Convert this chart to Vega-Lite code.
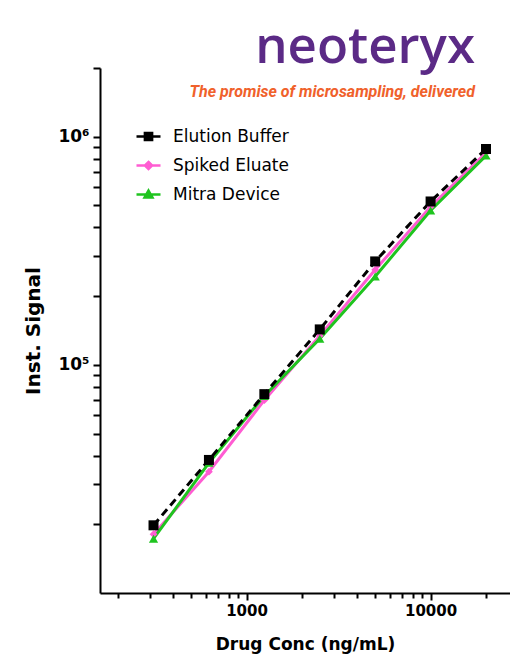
{
  "$schema": "https://vega.github.io/schema/vega-lite/v6.json",
  "width": 410,
  "height": 525,
  "autosize": {"type": "none"},
  "padding": {"left": 100, "top": 68, "right": 0, "bottom": 64},
  "background": "white",
  "title": {
    "text": "neoteryx",
    "subtitle": "The promise of microsampling, delivered",
    "anchor": "end",
    "dx": -35,
    "offset": -42,
    "font": "Open Sans",
    "fontSize": 51,
    "fontWeight": 600,
    "color": "#5b2a86",
    "subtitleFont": "Roboto",
    "subtitleFontSize": 16,
    "subtitleFontStyle": "italic",
    "subtitleFontWeight": "bold",
    "subtitleColor": "#f0612b",
    "subtitlePadding": 10
  },
  "config": {
    "view": {"stroke": null},
    "axis": {
      "domainColor": "black",
      "domainWidth": 2,
      "tickColor": "black",
      "tickWidth": 2,
      "grid": false,
      "labelColor": "black",
      "titleColor": "black"
    }
  },
  "data": {
    "values": [
      {"series": "Spiked Eluate", "conc": 312.5, "signal": 18100},
      {"series": "Spiked Eluate", "conc": 625, "signal": 34000},
      {"series": "Spiked Eluate", "conc": 1250, "signal": 70000},
      {"series": "Spiked Eluate", "conc": 2500, "signal": 134000},
      {"series": "Spiked Eluate", "conc": 5000, "signal": 261000},
      {"series": "Spiked Eluate", "conc": 10000, "signal": 493000},
      {"series": "Spiked Eluate", "conc": 20000, "signal": 850000},
      {"series": "Mitra Device", "conc": 312.5, "signal": 17300},
      {"series": "Mitra Device", "conc": 625, "signal": 37200},
      {"series": "Mitra Device", "conc": 1250, "signal": 73100},
      {"series": "Mitra Device", "conc": 2500, "signal": 130000},
      {"series": "Mitra Device", "conc": 5000, "signal": 244000},
      {"series": "Mitra Device", "conc": 10000, "signal": 475000},
      {"series": "Mitra Device", "conc": 20000, "signal": 826000},
      {"series": "Elution Buffer", "conc": 312.5, "signal": 19800},
      {"series": "Elution Buffer", "conc": 625, "signal": 38300},
      {"series": "Elution Buffer", "conc": 1250, "signal": 74400},
      {"series": "Elution Buffer", "conc": 2500, "signal": 143000},
      {"series": "Elution Buffer", "conc": 5000, "signal": 284000},
      {"series": "Elution Buffer", "conc": 10000, "signal": 520000},
      {"series": "Elution Buffer", "conc": 20000, "signal": 883000}
    ]
  },
  "encoding": {
    "x": {
      "field": "conc",
      "type": "quantitative",
      "scale": {"type": "log", "domain": [160, 27000], "nice": false},
      "axis": {
        "values": [200, 300, 400, 500, 600, 700, 800, 900, 1000, 2000, 3000, 4000, 5000, 6000, 7000, 8000, 9000, 10000, 20000],
        "labelExpr": "datum.value == 1000 ? '1000' : datum.value == 10000 ? '10000' : ''",
        "tickSize": {"condition": {"test": "datum.value == 1000 || datum.value == 10000", "value": 7}, "value": 5},
        "labelFont": "DejaVu Sans",
        "labelFontWeight": "bold",
        "labelFontSize": 15,
        "labelPadding": 3,
        "labelOverlap": false,
        "labelFlush": false,
        "title": "Drug Conc (ng/mL)",
        "titleFont": "DejaVu Sans",
        "titleFontWeight": "bold",
        "titleFontSize": 17,
        "titlePadding": 18
      }
    },
    "y": {
      "field": "signal",
      "type": "quantitative",
      "scale": {"type": "log", "domain": [10000, 2000000], "nice": false},
      "axis": {
        "values": [20000, 30000, 40000, 50000, 60000, 70000, 80000, 90000, 100000, 200000, 300000, 400000, 500000, 600000, 700000, 800000, 900000, 1000000, 2000000],
        "labelExpr": "datum.value == 100000 ? '10⁵' : datum.value == 1000000 ? '10⁶' : ''",
        "tickSize": 7,
        "labelFont": "DejaVu Sans",
        "labelFontWeight": "bold",
        "labelFontSize": 17,
        "labelPadding": 4,
        "labelOverlap": false,
        "labelFlush": false,
        "title": "Inst. Signal",
        "titleFont": "DejaVu Sans",
        "titleFontWeight": "bold",
        "titleFontSize": 20,
        "titlePadding": 14
      }
    }
  },
  "layer": [
    {
      "mark": {"type": "point", "filled": true, "size": 1, "strokeWidth": 2.5, "opacity": 1},
      "encoding": {
        "fill": {
          "field": "series",
          "type": "nominal",
          "scale": {"domain": ["Elution Buffer", "Spiked Eluate", "Mitra Device"], "range": ["#000000", "#ff5cd2", "#1fc41f"]},
          "legend": {"title": null, "orient": "none", "legendX": 35, "legendY": 55, "symbolSize": 576, "symbolStrokeWidth": 2.5, "symbolOpacity": 1, "labelFont": "DejaVu Sans", "labelFontSize": 17, "labelColor": "black", "labelOffset": 11, "rowPadding": 6, "padding": 0}
        },
        "stroke": {
          "field": "series",
          "type": "nominal",
          "scale": {"domain": ["Elution Buffer", "Spiked Eluate", "Mitra Device"], "range": ["#000000", "#ff5cd2", "#1fc41f"]},
          "legend": {"title": null, "orient": "none", "legendX": 35, "legendY": 55, "symbolSize": 576, "symbolStrokeWidth": 2.5, "symbolOpacity": 1, "labelFont": "DejaVu Sans", "labelFontSize": 17, "labelColor": "black", "labelOffset": 11, "rowPadding": 6, "padding": 0}
        },
        "shape": {
          "field": "series",
          "type": "nominal",
          "scale": {"domain": ["Elution Buffer", "Spiked Eluate", "Mitra Device"], "range": ["M-1,0H1M-0.3,-0.3H0.3V0.3H-0.3Z", "M-1,0H1M0,-0.3L0.3,0L0,0.3L-0.3,0Z", "M-1,0H1M0,-0.33L0.33,0.25H-0.33Z"]},
          "legend": {"title": null, "orient": "none", "legendX": 35, "legendY": 55, "symbolSize": 576, "symbolStrokeWidth": 2.5, "symbolOpacity": 1, "labelFont": "DejaVu Sans", "labelFontSize": 17, "labelColor": "black", "labelOffset": 11, "rowPadding": 6, "padding": 0}
        }
      }
    },
    {
      "transform": [{"filter": "datum.series == 'Spiked Eluate'"}],
      "mark": {"type": "line", "strokeWidth": 3, "color": "#ff5cd2"}
    },
    {
      "transform": [{"filter": "datum.series == 'Mitra Device'"}],
      "mark": {"type": "line", "strokeWidth": 3, "color": "#1fc41f"}
    },
    {
      "transform": [{"filter": "datum.series == 'Elution Buffer'"}],
      "mark": {"type": "line", "strokeWidth": 3, "color": "#000000", "strokeDash": [8, 5]}
    },
    {
      "transform": [{"filter": "datum.series == 'Spiked Eluate'"}],
      "mark": {"type": "point", "shape": "diamond", "filled": true, "size": 60, "color": "#ff5cd2", "opacity": 1}
    },
    {
      "transform": [{"filter": "datum.series == 'Mitra Device'"}],
      "mark": {"type": "point", "shape": "triangle-up", "filled": true, "size": 85, "color": "#1fc41f", "opacity": 1}
    },
    {
      "transform": [{"filter": "datum.series == 'Elution Buffer'"}],
      "mark": {"type": "point", "shape": "square", "filled": true, "size": 100, "color": "#000000", "opacity": 1}
    }
  ]
}
